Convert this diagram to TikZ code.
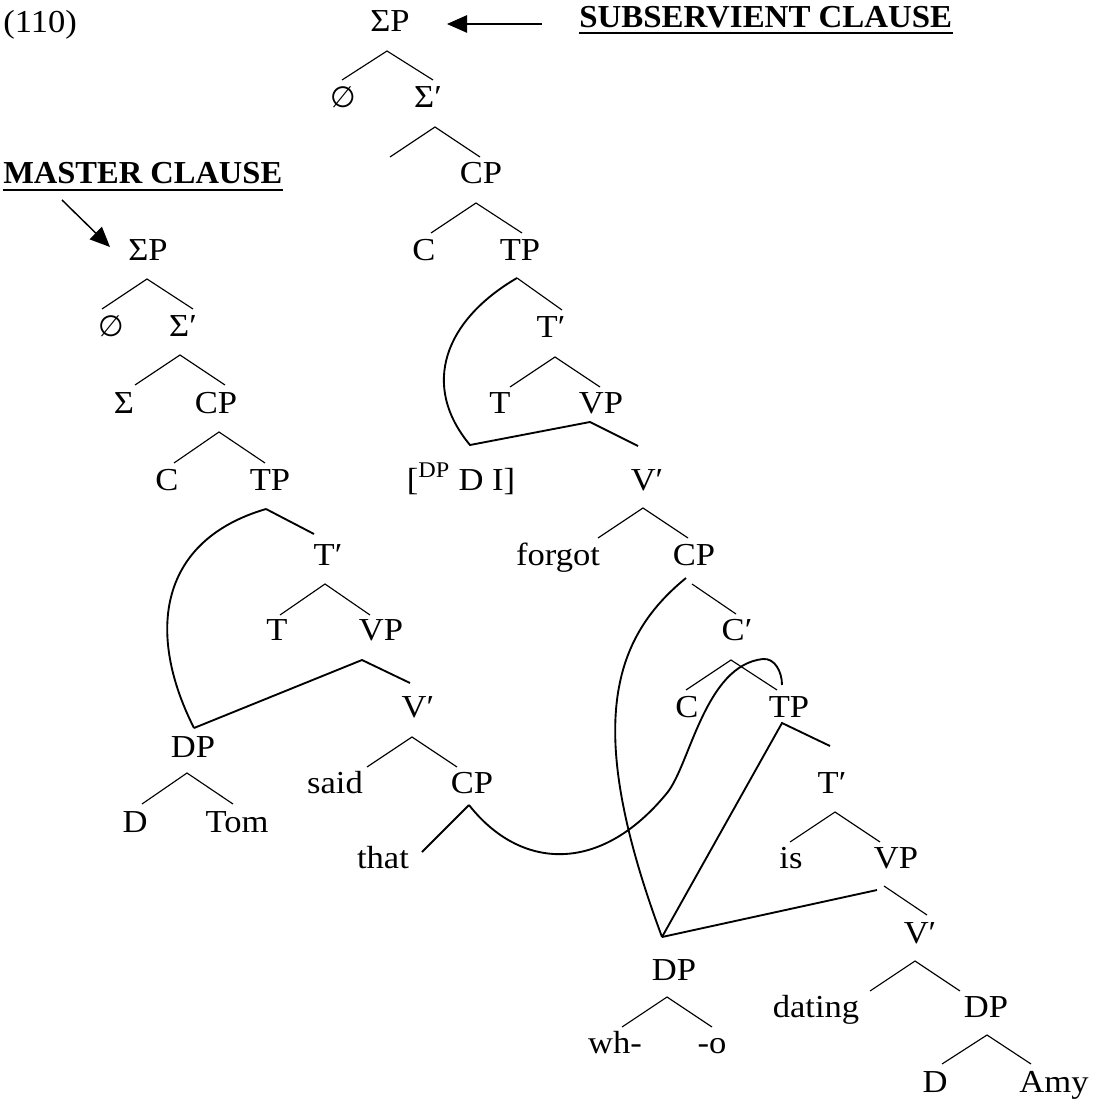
\documentclass[tikz,border=0pt]{standalone}
\usepackage{graphicx}
\usepackage{fontspec}
\setmainfont{Liberation Serif}[FakeStretch=1.08]
\newfontfamily\symf{DejaVu Sans}
\usetikzlibrary{calc,arrows.meta}
\tikzset{
 lab/.style={anchor=base, inner sep=0pt, font=\fontsize{24pt}{28pt}\selectfont},
 hdr/.style={anchor=base west, inner sep=0pt, font=\fontsize{24pt}{28pt}\selectfont\bfseries},
 br/.style={line width=0.85pt},
 mv/.style={line width=1.4pt},
 ul/.style={line width=1.8pt},
 arr/.style={line width=1.1pt, -{Triangle[length=15pt,width=13pt]}},
}
\newcommand\caret[7]{\draw[br] ($(#1.base)+(#2,#3)$) coordinate (#1-a) +(#4,#5) -- (#1-a) -- +(#6,#7);}
\begin{document}
\begin{tikzpicture}[x=0.75pt,y=-0.75pt]
\useasboundingbox (0,0) rectangle (1094,1109);
% headings
\node[lab, anchor=base west] (ex) at (3,33) {(110)};
\node[hdr] (sub) at (579,28) {\resizebox{279.75pt}{\height}{SUBSERVIENT CLAUSE}};
\node[hdr] (mas) at (3,184) {\resizebox{209.25pt}{\height}{MASTER CLAUSE}};
\draw[ul] ($(sub.base west)+(0,5)$) -- ($(sub.base east)+(0,5)$);
\draw[ul] ($(mas.base west)+(0,6)$) -- ($(mas.base east)+(0,6)$);
% subservient tree
\node[lab] (sSP) at (390,32) {ΣP};
\node[lab] (sN) at (343,108) {{\symf\fontsize{22pt}{26pt}\selectfont ∅}};
\node[lab] (sSb) at (428,108) {Σ′};
\node[lab] (sCP) at (481,184) {CP};
\node[lab] (sC) at (424,260) {C};
\node[lab] (sTP) at (520,260) {TP};
\node[lab] (sTb) at (551,337) {T′};
\node[lab] (sT) at (500,413) {T};
\node[lab] (sVP) at (601,413) {VP};
\node[lab] (sDI) at (461,490) {[\textsuperscript{DP} D I]};
\node[lab] (sVb) at (647,490) {V′};
\node[lab] (sforgot) at (558,565) {forgot};
\node[lab] (sCP2) at (694,565) {CP};
\node[lab] (sCb) at (737,640) {C′};
\node[lab] (sC2) at (687,717) {C};
\node[lab] (sTP2) at (789,717) {TP};
\node[lab] (sTb2) at (832,793) {T′};
\node[lab] (sis) at (791,868) {is};
\node[lab] (sVP2) at (896,868) {VP};
\node[lab] (sVb2) at (920,943) {V′};
\node[lab] (sdating) at (816,1017) {dating};
\node[lab] (sDP3) at (986,1017) {DP};
\node[lab] (sD) at (935,1092) {D};
\node[lab] (sAmy) at (1054,1092) {Amy};
\node[lab] (sDP2) at (674,980) {DP};
\node[lab] (swh) at (615,1053) {wh-};
\node[lab] (so) at (712,1053) {-o};
% master tree
\node[lab] (mSP) at (148,260) {ΣP};
\node[lab] (mN) at (111,336) {{\symf\fontsize{22pt}{26pt}\selectfont ∅}};
\node[lab] (mSb) at (183,336) {Σ′};
\node[lab] (mSig) at (124,413) {Σ};
\node[lab] (mCP) at (216,413) {CP};
\node[lab] (mC) at (167,490) {C};
\node[lab] (mTP) at (270,490) {TP};
\node[lab] (mTb) at (328,565) {T′};
\node[lab] (mT) at (277,640) {T};
\node[lab] (mVP) at (381,640) {VP};
\node[lab] (mVb) at (418,717) {V′};
\node[lab] (mDP) at (193,757) {DP};
\node[lab] (mD) at (135,832) {D};
\node[lab] (mTom) at (237,832) {Tom};
\node[lab] (msaid) at (335,793) {said};
\node[lab] (mCP2) at (472,793) {CP};
\node[lab] (mthat) at (383,868) {that};
% arrows
\draw[arr] ($(sub.base west)+(-37,-4)$) -- ($(sSP.base)+(57,-8)$);
\draw[arr] ($(mas.base west)+(59,16)$) -- ($(mSP.base)+(-38,-13)$);
% subservient branches
\caret{sSP}{-3}{19}{-45}{29}{46}{29}
\caret{sSb}{7}{19}{-45}{30}{45}{30}
\caret{sCP}{-5}{19}{-45}{30}{46}{30}
\coordinate (sTP-a) at ($(sTP.base)+(-3,18)$);
\draw[br] (sTP-a) -- +(45,32);
\coordinate (sDI-j) at ($(sDI.base)+(9,-45)$);
\coordinate (sVP-a) at ($(sVP.base)+(-11,9)$);
\draw[mv] (sTP-a) .. controls +(-72,42) and +(-50,-60) .. (sDI-j) -- (sVP-a) -- +(48,24);
\caret{sTb}{4}{20}{-45}{30}{45}{30}
\caret{sVb}{-4}{18}{-45}{30}{45}{30}
\coordinate (sCP2-c) at ($(sCP2.base)+(-8,13)$);
\coordinate (sDP2-j) at ($(sDP2.base)+(-12,-43)$);
\draw[br] ($(sCP2.base)+(-2,19)$) -- +(44,30);
\draw[mv] (sCP2-c) .. controls +(-76,62) and +(-77,-207) .. (sDP2-j);
\caret{sCb}{-6}{20}{-45}{30}{46}{30}
\coordinate (sTP2-a) at ($(sTP2.base)+(-7,6)$);
\draw[mv] (sDP2-j) -- (sTP2-a) -- +(48,23);
\caret{sTb2}{3}{19}{-45}{30}{45}{30}
\draw[mv] (sDP2-j) -- ($(sVP2.base)+(-19,22)$);
\draw[br] ($(sVP2.base)+(-12,18)$) -- +(43,29);
\caret{sVb2}{-5}{18}{-45}{30}{45}{30}
\caret{sDP3}{1}{18}{-45}{29}{44}{29}
\caret{sDP2}{-7}{17}{-45}{30}{45}{30}
% master branches
\caret{mSP}{-1}{19}{-45}{30}{46}{30}
\caret{mSb}{-3}{19}{-45}{30}{45}{30}
\caret{mCP}{3}{19}{-45}{31}{46}{31}
\coordinate (mTP-a) at ($(mTP.base)+(-4,19)$);
\coordinate (mDP-j) at ($(mDP.base)+(1,-29)$);
\draw[mv] (mTP-a) -- +(48,25);
\draw[mv] (mTP-a) .. controls +(-106,31) and +(-49,-97) .. (mDP-j);
\caret{mTb}{-3}{19}{-45}{31}{45}{31}
\coordinate (mVP-a) at ($(mVP.base)+(-19,20)$);
\draw[mv] (mDP-j) -- (mVP-a) -- +(48,23);
\caret{mVb}{-6}{20}{-45}{30}{45}{30}
\caret{mDP}{-6}{16}{-45}{31}{46}{31}
\coordinate (mCP2-a) at ($(mCP2.base)+(-3,12)$);
\coordinate (sTP2-h) at ($(sTP2.base)+(-7,-32)$);
\draw[mv] (mCP2-a) -- +(-47,47);
\draw[mv] (mCP2-a) .. controls (520,870) and (600,875) .. (667,793)
  .. controls (690,765) and (705,665) .. (763,659)
  .. controls (775,658) and (782,672) .. (sTP2-h);
\end{tikzpicture}
\end{document}
